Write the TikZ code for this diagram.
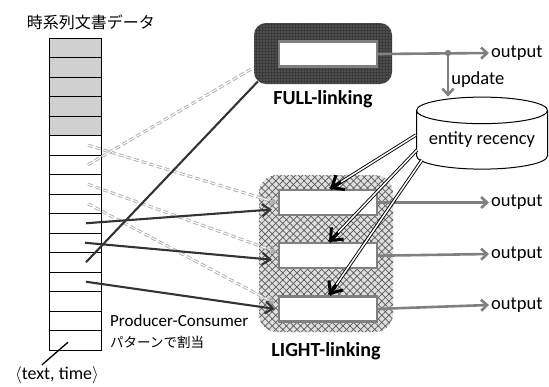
\documentclass[tikz,border=0pt]{standalone}
\usepackage{fontspec}
\setmainfont{Carlito}
\newfontfamily\cjk{Noto Sans CJK JP}
\usetikzlibrary{arrows.meta, positioning, shapes.geometric, patterns.meta, calc}
\definecolor{fullgray}{HTML}{3A3A3A}
\definecolor{linegray}{HTML}{808080}
\definecolor{cellgray}{HTML}{D0D0D0}
\definecolor{darkline}{HTML}{333333}

\begin{document}
\begin{tikzpicture}[x=1pt, y=-1pt,
    cell/.style={draw, line width=1pt, minimum width=52pt, minimum height=19.5pt, inner sep=0pt, fill=#1},
    fullbox/.style={rounded corners=12pt, minimum width=138pt, minimum height=61pt, fill=fullgray,
      postaction={pattern={Dots[distance=3pt, radius=0.55pt]}, pattern color=gray!85}},
    lightbox/.style={rounded corners=18pt, minimum width=134pt, minimum height=157pt, fill=gray!25,
      postaction={pattern={Lines[angle=45, distance=5pt, line width=0.7pt]}, pattern color=gray!70!black},
      postaction={pattern={Lines[angle=-45, distance=5pt, line width=0.7pt]}, pattern color=gray!70!black}},
    inbox/.style={draw=linegray, line width=2.2pt, fill=white, minimum width=98pt, minimum height=25pt, inner sep=0pt},
    outarrow/.style={draw=linegray, line width=2.6pt, -{Straight Barb[length=6pt, width=11pt]}},
    feedarrow/.style={draw=darkline, line width=2.1pt, -{Straight Barb[length=8pt, width=12pt]}},
    feedline/.style={draw=darkline, line width=2.1pt},
    dashline/.style={draw=gray!65, line width=0.9pt, double=white, double distance=1.1pt, dash pattern=on 5pt off 3pt},
    dashtip/.style={draw=gray!65, line width=1.2pt, -{Straight Barb[length=5pt, width=9pt]}},
    recline/.style={draw=black, line width=0.9pt, double=white, double distance=1.5pt},
    rectip/.style={draw=black, line width=3pt, -{Straight Barb[length=10pt, width=17pt]}},
    txt/.style={font=\fontsize{18.5}{22}\selectfont, inner sep=2pt},
    caption/.style={font=\fontsize{20}{24}\selectfont\bfseries}
]
\useasboundingbox[fill=white] (0,0) rectangle (549,386);

% Document stream
\node[font=\cjk\fontsize{16}{18}\selectfont] (title) at (91,22) {時系列文書データ};
\foreach \i in {0,...,4}
  \node[cell=cellgray] (c\i) at (75, 47.75+19.5*\i) {};
\foreach \i in {5,...,15}
  \node[cell=white] (c\i) at (75, 47.75+19.5*\i) {};
\node[font=\fontsize{18}{20}\selectfont] (tt) at (57,375) {$\langle$text, time$\rangle$};
\draw[line width=1.3pt] ([xshift=-15pt,yshift=-2pt]tt.north) -- ([xshift=-7pt,yshift=-2pt]c15.center);
\node[anchor=west, align=left, inner sep=0pt, font=\fontsize{17}{21}\selectfont] (pc) at (110,332)
  {Producer-Consumer\\{\cjk\fontsize{13.5}{21}\selectfont パターンで割当}};

% LIGHT-linking
\node[lightbox] (light) at (326,253.5) {};
\node[inbox] (lb1) at (328,202.5) {};
\node[inbox, below=26pt of lb1] (lb2) {};
\node[inbox, below=26pt of lb2] (lb3) {};
\node[caption, below=7pt of light] {LIGHT-linking};

% FULL-linking
\node[fullbox] (full) at (323,53.5) {};
\node[inbox] (fin) at (328,54) {};
\node[caption, below=3pt of full] {FULL-linking};

% Entity recency store
\node[draw, line width=1pt, cylinder, shape border rotate=90, aspect=0.25, minimum width=131pt, minimum height=72pt,
  txt, inner sep=0pt] (ent) at (482,140) {entity recency};

% Outputs
\node[txt, anchor=west] (fout) at (489,53) {output};
\node[txt, anchor=west] (out1) at (489,202.5) {output};
\node[txt, anchor=west] (out2) at (489,254) {output};
\node[txt, anchor=west] (out3) at (489,305) {output};
\coordinate (fdot) at (448,53);
\draw[outarrow] (fin.east) -- (fout.west);
\fill[linegray] (fdot) circle (3.2pt);
\draw[outarrow] (fdot) -- node[txt, right, pos=0.62] {update} (fdot |- ent.north);
\draw[outarrow] (lb1.east) -- (out1.west);
\draw[outarrow] (lb2.east) -- (out2.west);
\draw[outarrow] (lb3.east) -- (out3.west);

% Assignment of documents
\coordinate (d1) at ([xshift=-2pt]lb1.west);
\coordinate (d2) at ([xshift=-2pt,yshift=4pt]lb2.west);
\coordinate (d3) at ([xshift=-4pt,yshift=6pt]lb3.west);
\draw[dashline] ([xshift=13pt]c5.center) -- (d1);
\draw[dashtip] ($(d1)!6pt!(c5.center)$) -- (d1);
\draw[dashline] ([xshift=13pt]c6.center) -- ([yshift=-14pt]full.west);
\draw[dashline] ([xshift=13pt]c7.center) -- (d2);
\draw[dashtip] ($(d2)!6pt!(c7.center)$) -- (d2);
\draw[dashline] ([xshift=13pt]c8.center) -- (d3);
\draw[dashtip] ($(d3)!6pt!(c8.center)$) -- (d3);
\draw[feedarrow] ([xshift=11pt]c9.center) -- ([xshift=-6pt,yshift=-7pt]lb1.west);
\draw[feedarrow] ([xshift=10pt]c10.center) -- ([xshift=-6pt,yshift=-4pt]lb2.west);
\draw[feedline] ([xshift=11pt]c11.center) -- ([xshift=4pt,yshift=-28pt]full.west);
\draw[feedarrow] ([xshift=11pt]c12.center) -- ([xshift=-3pt]lb3.west);

% Recency lookups
\coordinate (r1) at ([yshift=5pt]ent.west);
\coordinate (r2) at ([xshift=1pt,yshift=-10pt]ent.west);
\coordinate (r3) at ([xshift=6pt,yshift=-20pt]ent.west);
\draw[recline] (r1) -- ([xshift=2pt]lb1.north);
\draw[rectip] ($([xshift=2pt]lb1.north)!13pt!(r1)$) -- ([xshift=2pt]lb1.north);
\draw[recline] (r2) -- ([xshift=1pt]lb2.north);
\draw[rectip] ($([xshift=1pt]lb2.north)!13pt!(r2)$) -- ([xshift=1pt]lb2.north);
\draw[recline] (r3) -- ([xshift=1pt]lb3.north);
\draw[rectip] ($([xshift=1pt]lb3.north)!13pt!(r3)$) -- ([xshift=1pt]lb3.north);

\end{tikzpicture}
\end{document}
